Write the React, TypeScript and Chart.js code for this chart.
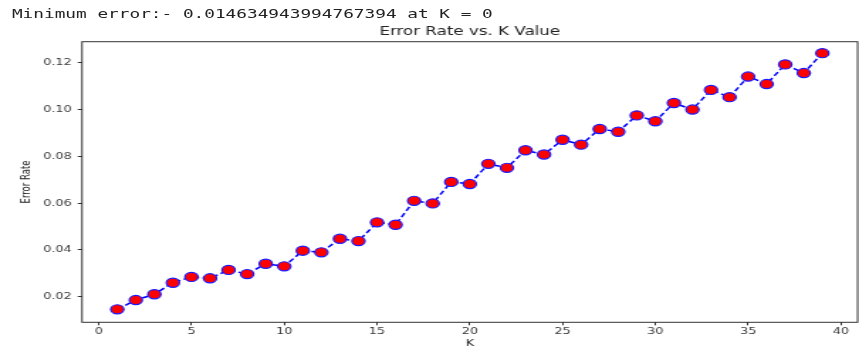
import React, { useEffect, useRef } from "react";
import { Chart, registerables } from "chart.js";

Chart.register(...registerables);

const kValues = [1, 2, 3, 4, 5, 6, 7, 8, 9, 10, 11, 12, 13, 14, 15, 16, 17, 18, 19, 20, 21, 22, 23, 24, 25, 26, 27, 28, 29, 30, 31, 32, 33, 34, 35, 36, 37, 38, 39];
const errorRates = [
  0.014634943994767394, 0.0186, 0.0211, 0.026, 0.0285, 0.0279, 0.0315, 0.0297, 0.0341, 0.033,
  0.0397, 0.039, 0.0448, 0.0438, 0.0518, 0.0508, 0.061, 0.0599, 0.0691, 0.0682,
  0.0768, 0.0751, 0.0826, 0.0808, 0.0871, 0.085, 0.0917, 0.0905, 0.0975, 0.095,
  0.1028, 0.1, 0.1084, 0.1053, 0.1141, 0.1109, 0.1193, 0.1156, 0.1241,
];
const xTicks = [0, 5, 10, 15, 20, 25, 30, 35, 40];
const yTicks = [0.02, 0.04, 0.06, 0.08, 0.1, 0.12];
const headerText = "Minimum error:- 0.014634943994767394 at K = 0";
const chartTitle = "Error Rate vs. K Value";
const xLabel = "K";
const yLabel = "Error Rate";

const FINAL_W = 859;
const FINAL_H = 351;
const BASE_W = 605;
const STRETCH = FINAL_W / BASE_W;

const framePlugin = {
  id: "frame",
  afterDraw(chart: any) {
    const { ctx, chartArea } = chart;
    ctx.save();
    ctx.strokeStyle = "#333333";
    ctx.lineWidth = 1;
    ctx.strokeRect(chartArea.left, chartArea.top, chartArea.right - chartArea.left, chartArea.bottom - chartArea.top);
    ctx.fillStyle = "#222222";
    ctx.font = "11.75px 'DejaVu Sans', sans-serif";
    ctx.textAlign = "center";
    ctx.textBaseline = "middle";
    ctx.fillText(chartTitle, (chartArea.left + chartArea.right) / 2, 32);
    ctx.restore();
  },
};

export default function App() {
  const canvasRef = useRef<HTMLCanvasElement | null>(null);

  useEffect(() => {
    const canvas = canvasRef.current;
    if (!canvas) return;
    const chart = new Chart(canvas, {
      type: "line",
      data: {
        datasets: [
          {
            data: kValues.map((k, i) => ({ x: k, y: errorRates[i] })),
            borderColor: "#0000ff",
            borderWidth: 1.5,
            borderDash: [4.5, 2.5],
            pointStyle: "circle",
            pointRadius: 4.6,
            pointBorderWidth: 1.2,
            pointBackgroundColor: "#ff0000",
            pointBorderColor: "#1a1aff",
            fill: false,
            tension: 0,
          },
        ],
      },
      options: {
        responsive: false,
        maintainAspectRatio: false,
        devicePixelRatio: 1,
        animation: false,
        events: [],
        layout: { autoPadding: false, padding: { left: 0, right: 1, top: 41.7, bottom: 0 } },
        plugins: {
          legend: { display: false },
          tooltip: { enabled: false },
          title: { display: false },
        },
        scales: {
          x: {
            type: "linear",
            min: -0.9,
            max: 40.9,
            afterBuildTicks: (scale: any) => {
              scale.ticks = xTicks.map((v) => ({ value: v }));
            },
            afterFit: (scale: any) => {
              scale.height = 28.7;
              scale.paddingLeft = 0;
              scale.paddingRight = 0;
            },
            grid: { drawOnChartArea: false, drawTicks: true, tickLength: 3, color: "#333333" },
            border: { display: false },
            ticks: {
              color: "#3a3a3a",
              padding: 1,
              maxRotation: 0,
              font: { family: "'DejaVu Sans', sans-serif", size: 9 },
              callback: (v: any) => String(v),
            },
            title: {
              display: true,
              text: xLabel,
              color: "#222222",
              font: { family: "'DejaVu Sans', sans-serif", size: 9 },
              padding: { top: 0, bottom: 1.6 },
            },
          },
          y: {
            type: "linear",
            min: 0.0091,
            max: 0.129,
            afterBuildTicks: (scale: any) => {
              scale.ticks = yTicks.map((v) => ({ value: v }));
            },
            afterFit: (scale: any) => {
              scale.width = 57.75;
              scale.paddingTop = 0;
              scale.paddingBottom = 0;
            },
            grid: { drawOnChartArea: false, drawTicks: true, tickLength: 3, color: "#333333" },
            border: { display: false },
            ticks: {
              color: "#3a3a3a",
              padding: 4.2,
              font: { family: "'DejaVu Sans', sans-serif", size: 9 },
              callback: (v: any) => Number(v).toFixed(2),
            },
            title: {
              display: true,
              text: yLabel,
              color: "#222222",
              font: { family: "'DejaVu Sans', sans-serif", size: 8.5 },
              padding: { top: 13.9, bottom: 0 },
            },
          },
        },
      },
      plugins: [framePlugin],
    });
    return () => chart.destroy();
  }, []);

  return (
    <div
      style={{
        position: "fixed",
        left: 0,
        top: 0,
        width: FINAL_W,
        height: FINAL_H,
        overflow: "hidden",
        background: "#ffffff",
      }}
    >
      <div
        style={{
          position: "absolute",
          left: 0,
          top: 0,
          width: BASE_W,
          height: FINAL_H,
          transform: `scaleX(${STRETCH})`,
          transformOrigin: "0 0",
        }}
      >
        <canvas
          ref={canvasRef}
          width={BASE_W}
          height={FINAL_H}
          style={{ position: "absolute", left: 0, top: 0, width: BASE_W, height: FINAL_H, display: "block" }}
        />
        <div
          style={{
            position: "absolute",
            left: 8.4,
            top: 7,
            fontFamily: "'DejaVu Sans Mono', monospace",
            fontSize: 12.5,
            lineHeight: "14px",
            color: "#222222",
            whiteSpace: "pre",
          }}
        >
          {headerText}
        </div>
      </div>
    </div>
  );
}
